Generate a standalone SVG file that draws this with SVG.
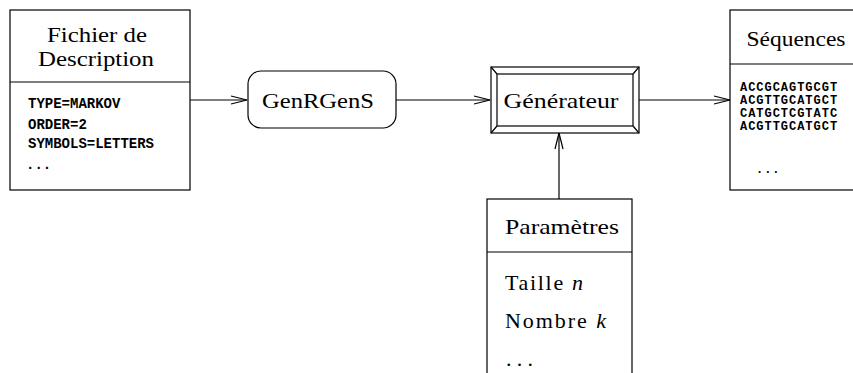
<svg xmlns="http://www.w3.org/2000/svg" width="853" height="373" viewBox="0 0 853 373">
<defs>
<style>
.box{fill:#fff;stroke:#000;stroke-width:1.2}
.ln{fill:none;stroke:#000;stroke-width:1.2}
.rm{font-family:"Liberation Serif","Times New Roman",serif;font-size:22px;fill:#000}
.tt{font-family:"Liberation Mono","Courier New",monospace;font-size:14px;font-weight:bold;fill:#000}
.tts{font-family:"Liberation Mono","Courier New",monospace;font-size:12px;font-weight:bold;letter-spacing:0.97px;fill:#000}
.it{font-style:italic}
</style>
<marker id="arr" markerUnits="userSpaceOnUse" markerWidth="18" markerHeight="10" refX="16" refY="4" orient="auto" overflow="visible">
<path d="M0,0 L16,4 L0,8" fill="none" stroke="#000" stroke-width="1.2"/>
</marker>
</defs>
<rect width="853" height="373" fill="#fff"/>

<g id="connectors">
<line class="ln" x1="190" y1="100" x2="247" y2="100" marker-end="url(#arr)"/>
<line class="ln" x1="396" y1="100" x2="490" y2="100" marker-end="url(#arr)"/>
<line class="ln" x1="639" y1="100" x2="730" y2="100" marker-end="url(#arr)"/>
<line class="ln" x1="559" y1="199" x2="559" y2="133" marker-end="url(#arr)"/>
</g>

<g id="fichier">
<rect class="box" x="10" y="10" width="180" height="180"/>
<line class="ln" x1="10" y1="82" x2="190" y2="82"/>
<text class="rm" x="97" y="42" text-anchor="middle" textLength="100" lengthAdjust="spacingAndGlyphs">Fichier de</text>
<text class="rm" x="96" y="66" text-anchor="middle" textLength="116" lengthAdjust="spacingAndGlyphs">Description</text>
<text class="tt" x="28" y="108">TYPE=MARKOV</text>
<text class="tt" x="28" y="129">ORDER=2</text>
<text class="tt" x="28" y="148">SYMBOLS=LETTERS</text>
<text class="tt" x="26" y="169">...</text>
</g>

<g id="genrgens">
<rect class="box" x="248" y="71" width="148" height="57" rx="13" ry="13"/>
<text class="rm" x="318" y="108" text-anchor="middle" textLength="112" lengthAdjust="spacingAndGlyphs">GenRGenS</text>
</g>

<g id="generateur">
<rect class="box" x="491" y="67" width="148" height="66"/>
<rect class="box" x="497" y="74" width="136" height="52"/>
<line class="ln" x1="491" y1="67" x2="497" y2="74"/>
<line class="ln" x1="639" y1="67" x2="633" y2="74"/>
<line class="ln" x1="491" y1="133" x2="497" y2="126"/>
<line class="ln" x1="639" y1="133" x2="633" y2="126"/>
<text class="rm" x="561" y="108" text-anchor="middle" textLength="115" lengthAdjust="spacingAndGlyphs">Générateur</text>
</g>

<g id="sequences">
<rect class="box" x="730" y="10" width="130" height="180"/>
<line class="ln" x1="730" y1="64" x2="860" y2="64"/>
<text class="rm" x="796" y="46" text-anchor="middle" textLength="99" lengthAdjust="spacingAndGlyphs">Séquences</text>
<text class="tts" x="740" y="91">ACCGCAGTGCGT</text>
<text class="tts" x="740" y="104">ACGTTGCATGCT</text>
<text class="tts" x="740" y="117">CATGCTCGTATC</text>
<text class="tts" x="740" y="130">ACGTTGCATGCT</text>
<text class="tts" x="756" y="173">...</text>
</g>

<g id="parametres">
<rect class="box" x="487" y="199" width="145" height="190"/>
<line class="ln" x1="487" y1="252" x2="632" y2="252"/>
<text class="rm" x="505" y="234" textLength="114" lengthAdjust="spacingAndGlyphs">Paramètres</text>
<text class="rm" x="505" y="290" textLength="78" lengthAdjust="spacing">Taille <tspan class="it">n</tspan></text>
<text class="rm" x="505" y="328" textLength="101" lengthAdjust="spacing">Nombre <tspan class="it">k</tspan></text>
<text class="rm" x="506" y="366" textLength="27" lengthAdjust="spacing">. . .</text>
</g>
</svg>
